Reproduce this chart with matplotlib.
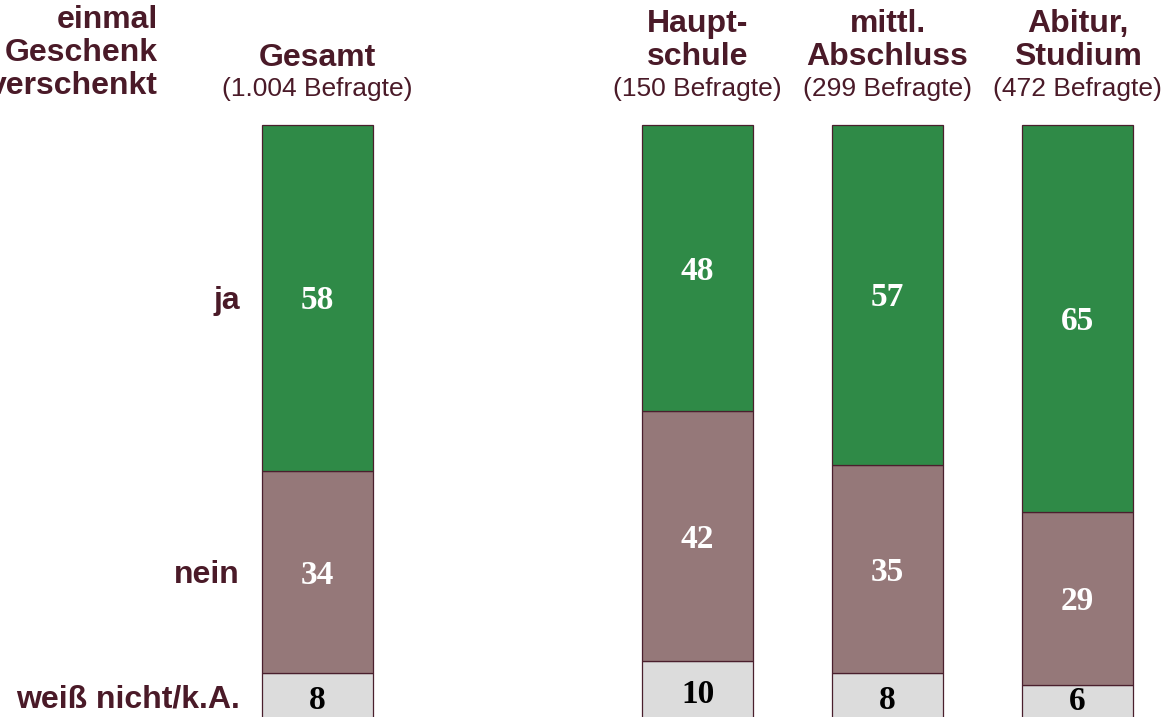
import matplotlib
matplotlib.use("Agg")
import matplotlib.pyplot as plt
import numpy as np

# data
groups = ["Gesamt", "Haupt-\nschule", "mittl.\nAbschluss", "Abitur,\nStudium"]
counts = ["(1.004 Befragte)", "(150 Befragte)", "(299 Befragte)", "(472 Befragte)"]
answers = ["ja", "nein", "weiß nicht/k.A."]
ja = [58, 48, 57, 65]
nein = [34, 42, 35, 29]
weiss_nicht = [8, 10, 8, 6]
title_lines = ["einmal", "Geschenk", "verschenkt"]

W, H = 1165, 717
fig = plt.figure(figsize=(W / 100, H / 100), dpi=100)
ax = fig.add_axes([0, 0, 1, 1])
ax.set_xlim(0, W)
px_per_unit = 5.96
y_top = 100 + 125 / px_per_unit
ax.set_ylim(y_top - H / px_per_unit, y_top)
ax.axis("off")

def py(p):
    # pixel row from top -> data y
    return y_top - p / px_per_unit

shift = 3 / px_per_unit  # nudge texts down a little
text_col = "#4a1a28"
edge_col = "#4a1f2d"
green = "#2f8a47"
mauve = "#957879"
grey = "#dcdcdc"
sans = "Liberation Sans"
serif = "Liberation Serif"
head_fs = 23
val_fs = 24

x_pos = np.array([317.5, 697.5, 887.5, 1077.5])
bar_w = 111

ja = np.array(ja)
nein = np.array(nein)
weiss_nicht = np.array(weiss_nicht)

ax.bar(x_pos, weiss_nicht, bar_w, color=grey, edgecolor=edge_col, linewidth=0.9)
ax.bar(x_pos, nein, bar_w, bottom=weiss_nicht, color=mauve, edgecolor=edge_col, linewidth=0.9)
ax.bar(x_pos, ja, bar_w, bottom=weiss_nicht + nein, color=green, edgecolor=edge_col, linewidth=0.9)

# value labels in the segments
for i in range(len(x_pos)):
    # the smallest bottom segment is partly cut by the image edge; keep its label inside
    yb = weiss_nicht[i] / 2 - shift if weiss_nicht[i] > 6 else py(702)
    ax.text(x_pos[i], yb, "%d" % weiss_nicht[i],
            ha="center", va="center", fontsize=val_fs, fontweight="bold", family=serif, color="black")
    ax.text(x_pos[i], weiss_nicht[i] + nein[i] / 2 - shift, "%d" % nein[i],
            ha="center", va="center", fontsize=val_fs, fontweight="bold", family=serif, color="white")
    ax.text(x_pos[i], weiss_nicht[i] + nein[i] + ja[i] / 2 - shift, "%d" % ja[i],
            ha="center", va="center", fontsize=val_fs, fontweight="bold", family=serif, color="white")

# row labels, aligned with the Gesamt segments
row_y = [weiss_nicht[0] + nein[0] + ja[0] / 2, weiss_nicht[0] + nein[0] / 2, py(697)]
for lab, yy in zip(answers, row_y):
    ax.text(240, yy - shift, lab, ha="right", va="center", fontsize=head_fs, fontweight="bold",
            family=sans, color=text_col)

# column headers
for i, g in enumerate(groups):
    lines = g.split("\n")
    if len(lines) == 1:
        ax.text(x_pos[i], py(58), lines[0], ha="center", va="center", fontsize=head_fs,
                fontweight="bold", family=sans, color=text_col)
    else:
        ax.text(x_pos[i], py(24), lines[0], ha="center", va="center", fontsize=head_fs,
                fontweight="bold", family=sans, color=text_col)
        ax.text(x_pos[i], py(57), lines[1], ha="center", va="center", fontsize=head_fs,
                fontweight="bold", family=sans, color=text_col)
    ax.text(x_pos[i], py(89), counts[i], ha="center", va="center", fontsize=19,
            family=sans, color=text_col)

# title at top left (partly cut off, as in the original)
for k, t in enumerate(title_lines):
    ax.text(158, py(20 + 33 * k), t, ha="right", va="center", fontsize=head_fs,
            fontweight="bold", family=sans, color=text_col)

fig.savefig("out.png", dpi=100)
